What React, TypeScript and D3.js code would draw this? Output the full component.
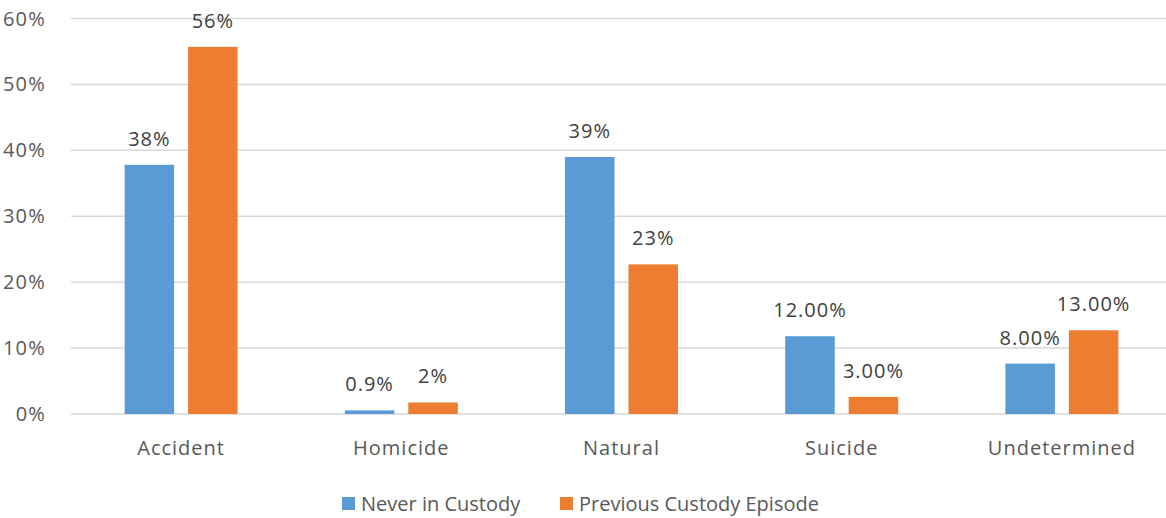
import * as d3 from 'd3';
import { useEffect, useRef } from 'react';

const categories = ['Accident', 'Homicide', 'Natural', 'Suicide', 'Undetermined'];
const seriesNames = ['Never in Custody', 'Previous Custody Episode'];
const neverValues = [37.8, 0.55, 39, 11.8, 7.65];
const previousValues = [55.7, 1.75, 22.7, 2.6, 12.7];
const neverLabels = ['38%', '0.9%', '39%', '12.00%', '8.00%'];
const previousLabels = ['56%', '2%', '23%', '3.00%', '13.00%'];
const yTicks = [0, 10, 20, 30, 40, 50, 60];

const WIDTH = 1166;
const HEIGHT = 518;
const COLORS = ['#5b9bd5', '#ed7d31'];
const FONT = '"Open Sans", "Liberation Sans", sans-serif';

export default function App(): React.ReactElement {
  const svgRef = useRef<SVGSVGElement>(null);

  useEffect(() => {
    if (!svgRef.current) return;
    const svg = d3.select(svgRef.current);
    svg.selectAll('*').remove();

    const x0 = d3
      .scaleBand()
      .domain(categories)
      .range([71, 1172])
      .paddingInner(0.487)
      .paddingOuter(0.2435);

    const x1 = d3
      .scaleBand()
      .domain(seriesNames)
      .range([0, x0.bandwidth()])
      .paddingInner(0.22);

    const y = d3.scaleLinear().domain([0, 60]).range([414, 18.5]);

    // Grid lines
    svg
      .selectAll('.grid-line')
      .data(yTicks)
      .enter()
      .append('line')
      .attr('x1', 71)
      .attr('x2', WIDTH)
      .attr('y1', (d) => y(d))
      .attr('y2', (d) => y(d))
      .attr('stroke', '#d9d9d9')
      .attr('stroke-width', 1.5);

    // Y labels
    svg
      .selectAll('.y-label')
      .data(yTicks)
      .enter()
      .append('text')
      .attr('x', 46)
      .attr('y', (d) => y(d))
      .attr('dy', '0.35em')
      .attr('text-anchor', 'end')
      .attr('fill', '#595959')
      .style('font-family', FONT)
      .style('font-size', '20px')
      .style('letter-spacing', '1.2px')
      .text((d) => `${d}%`);

    const series = [
      { name: seriesNames[0], values: neverValues, labels: neverLabels },
      { name: seriesNames[1], values: previousValues, labels: previousLabels },
    ];

    series.forEach((s, si) => {
      const rows = categories.map((c, i) => ({ c, v: s.values[i], label: s.labels[i] }));

      svg
        .selectAll(`.bar-${si}`)
        .data(rows)
        .enter()
        .append('rect')
        .attr('x', (d) => (x0(d.c) || 0) + (x1(s.name) || 0))
        .attr('y', (d) => y(d.v))
        .attr('width', x1.bandwidth())
        .attr('height', (d) => y(0) - y(d.v))
        .attr('fill', COLORS[si]);

      svg
        .selectAll(`.value-${si}`)
        .data(rows)
        .enter()
        .append('text')
        .attr('x', (d) => (x0(d.c) || 0) + (x1(s.name) || 0) + x1.bandwidth() / 2)
        .attr('y', (d) => y(d.v) - 19)
        .attr('text-anchor', 'middle')
        .attr('fill', '#404040')
        .style('font-family', FONT)
        .style('font-size', '20px')
        .style('letter-spacing', '1px')
        .text((d) => d.label);
    });

    // Category labels
    svg
      .selectAll('.x-label')
      .data(categories)
      .enter()
      .append('text')
      .attr('x', (d) => (x0(d) || 0) + x0.bandwidth() / 2)
      .attr('y', 455)
      .attr('text-anchor', 'middle')
      .attr('fill', '#595959')
      .style('font-family', FONT)
      .style('font-size', '20px')
      .style('letter-spacing', '1px')
      .text((d) => d);

    // Legend
    const legendX = [342, 560];
    const legend = svg
      .selectAll('.legend')
      .data(seriesNames)
      .enter()
      .append('g')
      .attr('transform', (_, i) => `translate(${legendX[i]}, 497)`);

    legend
      .append('rect')
      .attr('width', 13)
      .attr('height', 13)
      .attr('fill', (_, i) => COLORS[i]);

    legend
      .append('text')
      .attr('x', 19)
      .attr('y', 6.5)
      .attr('dy', '0.35em')
      .attr('fill', '#595959')
      .style('font-family', FONT)
      .style('font-size', '20px')
      .text((d) => d);
  }, []);

  return (
    <div style={{ position: 'fixed', left: 0, top: 0 }}>
      <svg ref={svgRef} width={WIDTH} height={HEIGHT} style={{ display: 'block', background: '#fff' }} />
    </div>
  );
}
